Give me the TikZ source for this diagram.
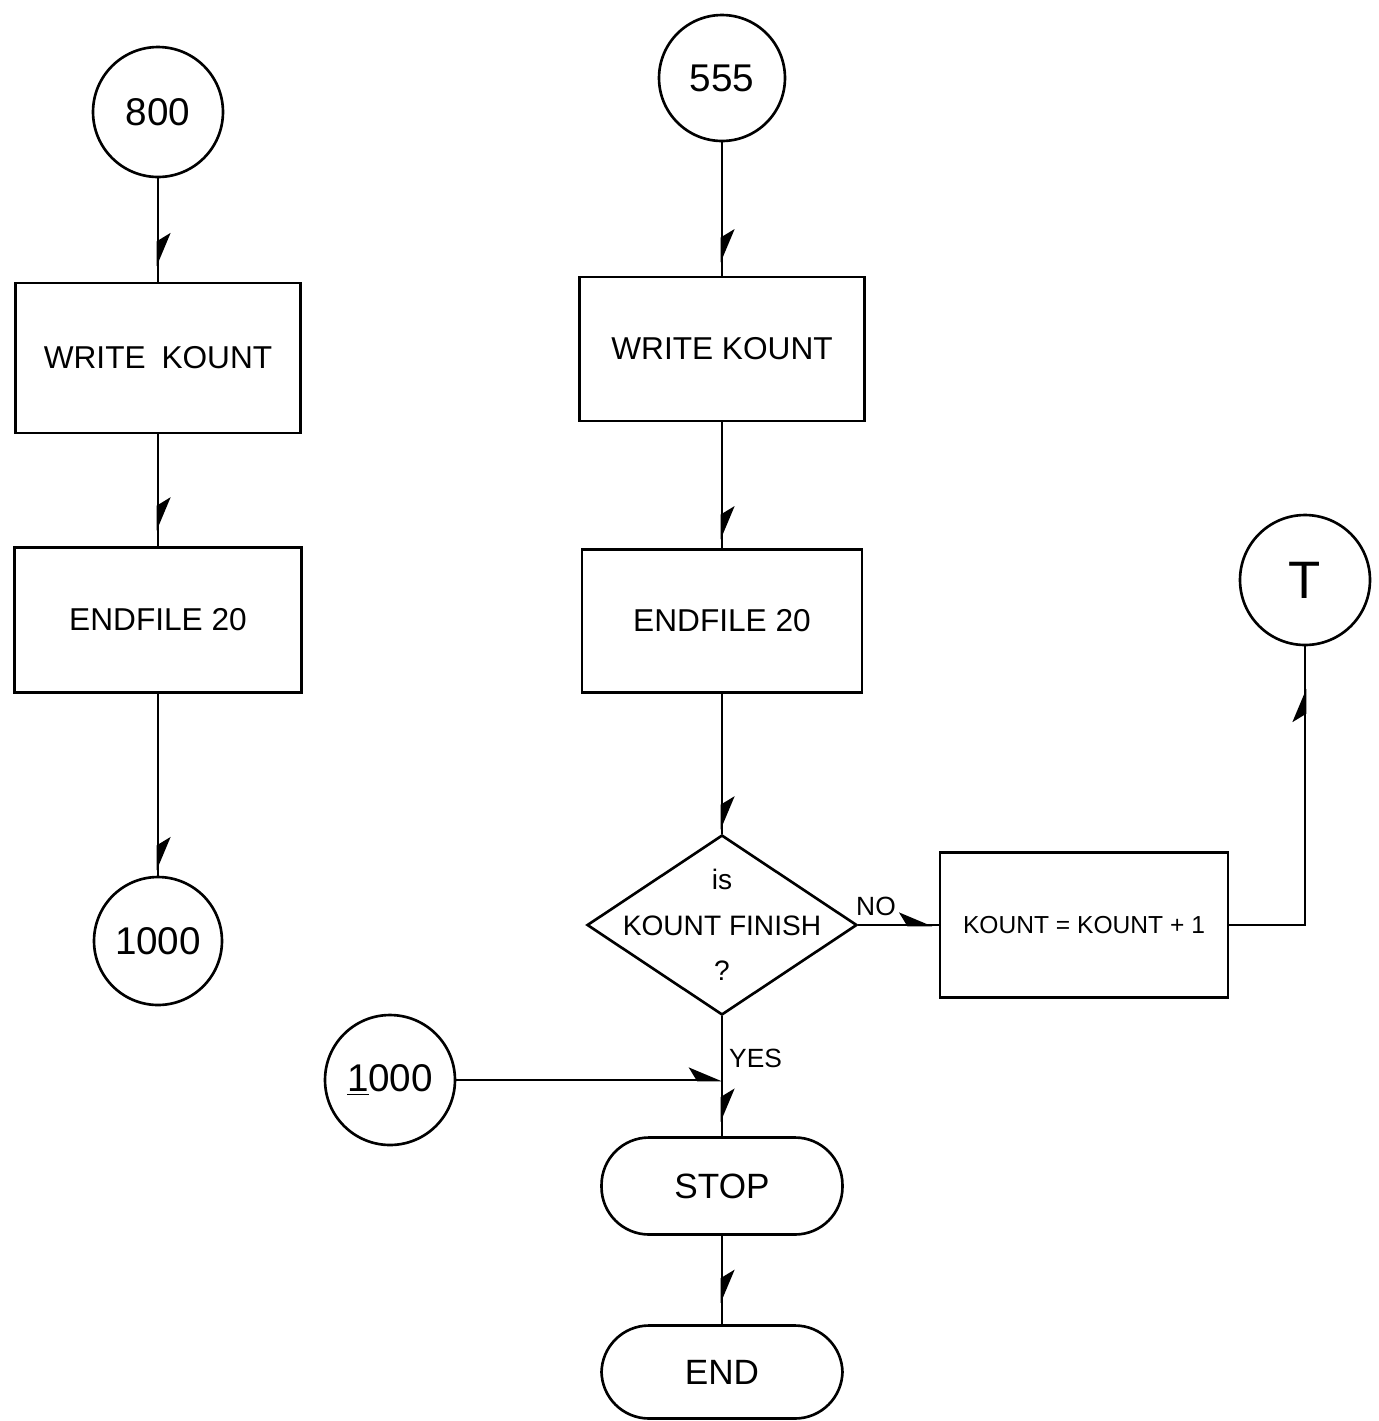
\documentclass[tikz,border=0pt]{standalone}
\usepackage{fontspec}
\setmainfont{Liberation Sans}
\usetikzlibrary{arrows.meta,positioning,shapes.geometric,decorations.markings}

\begin{document}
\begin{tikzpicture}[
  x=0.02cm, y=-0.02cm,
  line width=1.5pt,
  block/.style={rectangle, draw=black, align=center, font=\fontsize{18}{22}\selectfont},
  conn/.style={circle, draw=black, inner sep=0pt, minimum size=2.6cm, font=\fontsize{22}{26}\selectfont},
  term/.style={rectangle, rounded corners=0.95cm, draw=black, minimum width=4.82cm, minimum height=1.94cm, font=\fontsize{20}{24}\selectfont},
  decision/.style={diamond, draw=black, aspect=1.5, inner sep=0pt, minimum width=5.4cm, minimum height=3.6cm},
  tip/.style={-{Stealth[harpoon,length=6mm,width=5mm,inset=1.5mm]}},
  arrow/.style={decoration={markings, mark=at position #1 with {\arrow{Stealth[harpoon,length=6mm,width=5mm,inset=1.5mm]}}}, postaction={decorate}}
]
\useasboundingbox (0,0) rectangle (1379,1421);

% left column
\node[conn] (c800) at (158,112) {800};
\node[block, minimum width=5.7cm, minimum height=3cm] (w1) at (158,358) {WRITE\enspace KOUNT};
\node[block, minimum width=5.74cm, minimum height=2.9cm] (e1) at (158,620) {ENDFILE 20};
\node[conn, minimum size=2.56cm] (c1000) at (158,941) {1000};

% right column
\node[conn, minimum size=2.52cm] (c555) at (722,78) {555};
\node[block, minimum width=5.7cm, minimum height=2.88cm] (w2) at (722,349) {WRITE KOUNT};
\node[block, minimum width=5.6cm, minimum height=2.86cm] (e2) at (722,621) {ENDFILE 20};
\node[decision, label={[font=\fontsize{16}{26}\selectfont, align=center]center:{is\\KOUNT FINISH\\?}}] (dec) at (722,925) {};
\node[block, minimum width=5.76cm, minimum height=2.9cm, font=\fontsize{14}{18}\selectfont] (inc) at (1084,925) {KOUNT = KOUNT + 1};
\node[conn, font=\fontsize{30}{34}\selectfont] (ct) at (1305,580) {T};
\node[conn] (c1000b) at (390,1080) {\underline{1}000};
\node[term] (stop) at (722,1186) {STOP};
\node[term, minimum height=1.86cm] (end) at (722,1372) {END};

\draw[arrow=0.85] (c800) -- (w1);
\draw[arrow=0.86] (w1) -- (e1);
\draw[arrow=0.97] (e1) -- (c1000);
\draw[arrow=0.9] (c555) -- (w2);
\draw[arrow=0.93] (w2) -- (e2);
\draw[arrow=0.97] (e2) -- (dec);
\draw[arrow=0.88] (dec) -- node[pos=0.35, right, font=\fontsize{15}{18}\selectfont] {YES} (stop);
\draw[arrow=0.76] (stop) -- (end);
\draw[arrow=0.92] (dec) -- node[pos=0.22, above=1pt, font=\fontsize{15}{18}\selectfont] {NO} (inc);
\draw[arrow=0.88] (inc.east) -| (ct.south);
\draw[tip] (c1000b.east) -- (c1000b.east -| dec.south);
\end{tikzpicture}
\end{document}
